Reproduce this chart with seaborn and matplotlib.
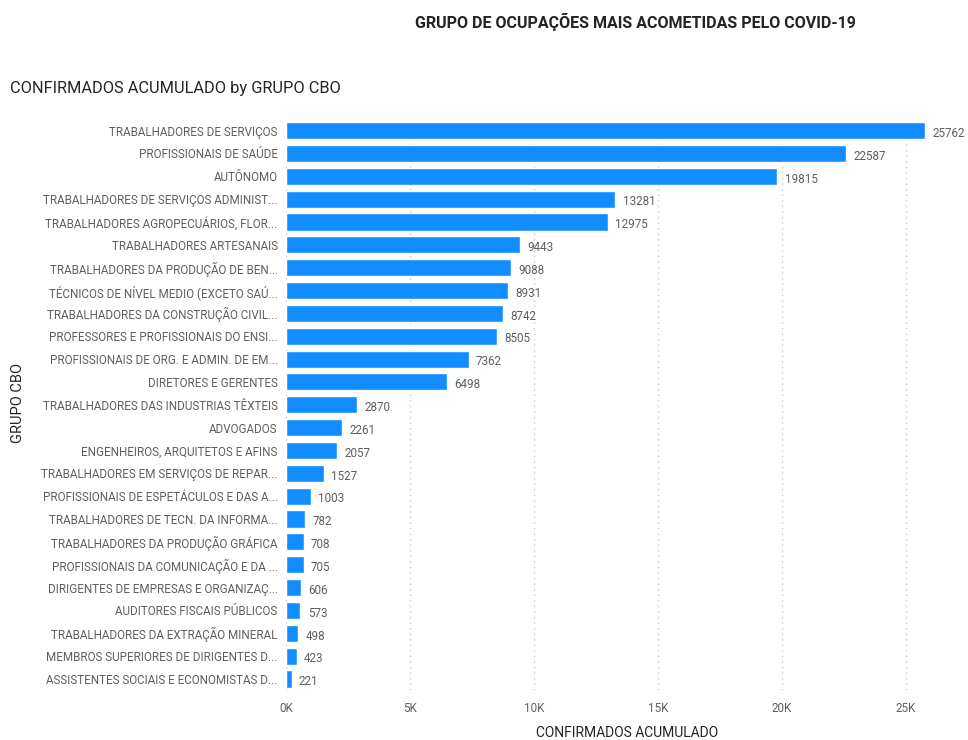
import pandas as pd
import matplotlib.pyplot as plt
import seaborn as sns
from matplotlib.ticker import FuncFormatter

# === Data ===
grupos = [
    "TRABALHADORES DE SERVIÇOS",
    "PROFISSIONAIS DE SAÚDE",
    "AUTÔNOMO",
    "TRABALHADORES DE SERVIÇOS ADMINIST...",
    "TRABALHADORES AGROPECUÁRIOS, FLOR...",
    "TRABALHADORES ARTESANAIS",
    "TRABALHADORES DA PRODUÇÃO DE BEN...",
    "TÉCNICOS DE NÍVEL MEDIO (EXCETO SAÚ...",
    "TRABALHADORES DA CONSTRUÇÃO CIVIL...",
    "PROFESSORES E PROFISSIONAIS DO ENSI...",
    "PROFISSIONAIS DE ORG. E ADMIN. DE EM...",
    "DIRETORES E GERENTES",
    "TRABALHADORES DAS INDUSTRIAS TÊXTEIS",
    "ADVOGADOS",
    "ENGENHEIROS, ARQUITETOS E AFINS",
    "TRABALHADORES EM SERVIÇOS DE REPAR...",
    "PROFISSIONAIS DE ESPETÁCULOS E DAS A...",
    "TRABALHADORES DE TECN. DA INFORMA...",
    "TRABALHADORES DA PRODUÇÃO GRÁFICA",
    "PROFISSIONAIS DA COMUNICAÇÃO E DA ...",
    "DIRIGENTES DE EMPRESAS E ORGANIZAÇ...",
    "AUDITORES FISCAIS PÚBLICOS",
    "TRABALHADORES DA EXTRAÇÃO MINERAL",
    "MEMBROS SUPERIORES DE DIRIGENTES D...",
    "ASSISTENTES SOCIAIS E ECONOMISTAS D...",
]
confirmados = [25762, 22587, 19815, 13281, 12975, 9443, 9088, 8931, 8742, 8505,
               7362, 6498, 2870, 2261, 2057, 1527, 1003, 782, 708, 705,
               606, 573, 498, 423, 221]

df = pd.DataFrame({"GRUPO CBO": grupos, "CONFIRMADOS ACUMULADO": confirmados})

sns.set_style("white")
plt.rcParams['font.family'] = ['Roboto', 'DejaVu Sans']

text_grey = "#605E5C"
dark = "#252423"
fig = plt.figure(figsize=(9.68, 7.4), dpi=100)
ax = fig.add_axes([0.2955, 0.067, 0.675, 0.772])

sns.barplot(data=df, x="CONFIRMADOS ACUMULADO", y="GRUPO CBO", color="#118DFF",
            saturation=1, width=0.75, ax=ax)

# value labels
for i, v in enumerate(confirmados):
    ax.text(v + 300, i + 0.12, f"{v}", va="center", ha="left",
            fontsize=8.4, color=text_grey)

ax.set_xlim(0, 26350)
ax.set_xticks([0, 5000, 10000, 15000, 20000, 25000])
ax.xaxis.set_major_formatter(FuncFormatter(lambda x, p: f"{int(x / 1000)}K"))
ax.grid(axis="x", linestyle=(0, (1, 3)), color="#C8C8C8", linewidth=1)
ax.set_axisbelow(True)
for s in ax.spines.values():
    s.set_visible(False)
ax.tick_params(axis="both", length=0, labelsize=8.4, colors=text_grey)
ax.tick_params(axis="y", pad=6)
ax.tick_params(axis="x", pad=8)

ax.set_xlabel("CONFIRMADOS ACUMULADO", fontsize=10, color=dark)
ax.xaxis.set_label_coords(0.522, -0.062)
ax.set_ylabel("")
fig.text(0.019, 0.455, "GRUPO CBO", rotation=90, fontsize=10.5, color=dark,
         va="center", ha="center")

fig.text(0.656, 0.97, "GRUPO DE OCUPAÇÕES MAIS ACOMETIDAS PELO COVID-19",
         fontsize=11.5, fontweight="bold", color=dark, ha="center", va="center")
fig.text(0.01, 0.881, "CONFIRMADOS ACUMULADO by GRUPO CBO",
         fontsize=11.8, color=dark, ha="left", va="center")

fig.savefig("out.png", dpi=100)
